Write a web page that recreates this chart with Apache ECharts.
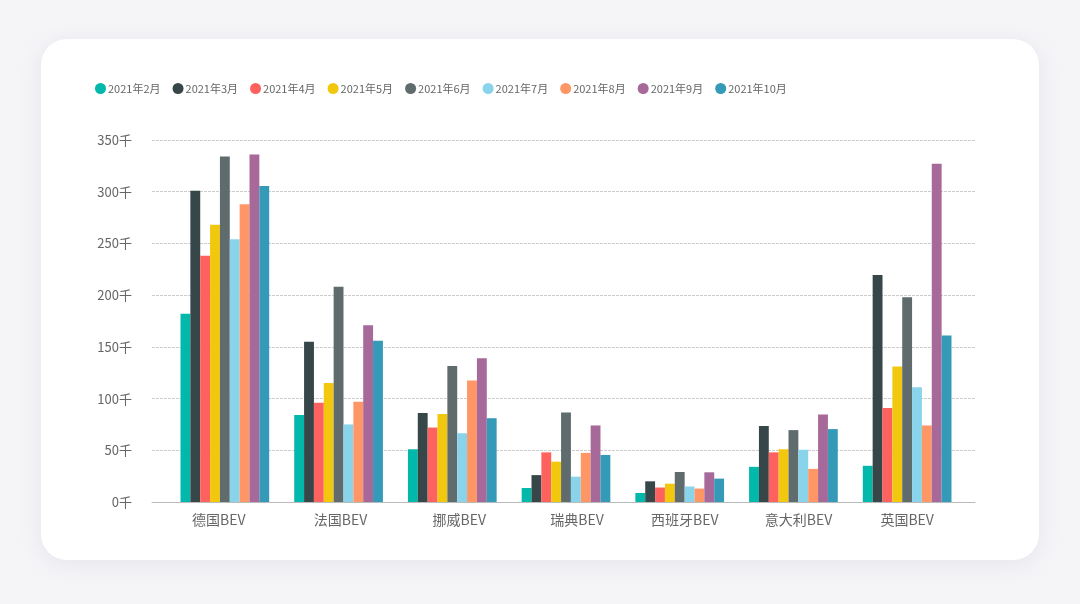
<!DOCTYPE html>
<html><head><meta charset="utf-8">
<script src="https://cdn.jsdelivr.net/npm/echarts@6/dist/echarts.min.js"></script>
<style>
html,body{margin:0;padding:0;width:1080px;height:604px;background:#f5f5f8;overflow:hidden;}
#card{position:absolute;left:41px;top:39px;width:998px;height:521px;background:#fff;border-radius:26px;box-shadow:0 4px 22px rgba(120,120,150,0.12);}
#chart{position:absolute;left:0;top:0;width:1080px;height:604px;}
</style></head>
<body>
<div id="card"></div>
<div id="chart"></div>
<script>
const categories = ['德国BEV','法国BEV','挪威BEV','瑞典BEV','西班牙BEV','意大利BEV','英国BEV'];
const seriesNames = ['2021年2月','2021年3月','2021年4月','2021年5月','2021年6月','2021年7月','2021年8月','2021年9月','2021年10月'];
const feb = [182, 84, 51, 13.5, 8.7, 34, 35];
const mar = [301, 155, 86, 26, 20, 73.5, 219.5];
const apr = [238, 96, 72, 48, 14, 48, 91];
const may = [268, 115, 85, 39, 17.7, 51, 131];
const jun = [334, 208, 131.5, 86.5, 29, 69.5, 198];
const jul = [254, 75, 66.5, 24.5, 15, 50.5, 111];
const aug = [288, 97, 117.5, 47.5, 13, 32, 74];
const sep = [336, 171, 139, 74, 28.7, 84.5, 327];
const oct = [305.5, 156, 81, 45.5, 22.6, 70.5, 161];
const seriesValues = [feb, mar, apr, may, jun, jul, aug, sep, oct];
const colors = ['#01B8AA','#374649','#FD625E','#F2C80F','#5F6B6D','#8AD4EB','#FE9666','#A66999','#3599B8'];

// label horizontal nudges (style only), px
const labelShift = [-6, 2, 7, 11, 5, 5, 0];
const rich = {};
labelShift.forEach((s,i)=>{
  rich['c'+i] = {color:'#666', fontSize:14,
    padding: s >= 0 ? [0,0,0,2*s] : [0,-2*s,0,0]};
});

const chart = echarts.init(document.getElementById('chart'));
chart.setOption({
  animation:false,
  color: colors,
  textStyle:{fontFamily:'"Noto Sans CJK SC","Noto Sans",sans-serif'},
  legend:{
    data: seriesNames,
    left: 90, top: 78,
    icon:'circle', itemWidth:11, itemHeight:11, itemGap:12,
    textStyle:{color:'#666', fontSize:11, padding:[0,0,0,-3]}
  },
  grid:[
    {left:152, right:105, top:140, bottom:102},
    {left:168, right:116, top:140, bottom:102}
  ],
  xAxis:[
    {gridIndex:0, type:'category', data: categories,
     axisLine:{lineStyle:{color:'#bbb'}}, axisTick:{show:false}, axisLabel:{show:false}},
    {gridIndex:1, type:'category', data: categories,
     axisLine:{show:false}, axisTick:{show:false},
     axisLabel:{interval:0, hideOverlap:false, color:'#666', fontSize:14, margin:11, rich: rich,
       formatter:(v,i)=>'{c'+i+'|'+v+'}'}}
  ],
  yAxis:[
    {gridIndex:0, type:'value', min:0, max:350, interval:50,
     axisLine:{show:false}, axisTick:{show:false},
     splitLine:{lineStyle:{color:'#ccc', type:[3,1]}},
     axisLabel:{color:'#666', fontSize:13, margin:20, formatter: v => v + '千'}},
    {gridIndex:1, type:'value', min:0, max:350, interval:50,
     axisLine:{show:false}, axisTick:{show:false}, splitLine:{show:false}, axisLabel:{show:false}}
  ],
  series: seriesNames.map((n,i)=>({
    name:n, type:'bar', data: seriesValues[i],
    xAxisIndex:1, yAxisIndex:1,
    barGap:'0%', barCategoryGap:'22%'
  }))
});
</script>
</body></html>
